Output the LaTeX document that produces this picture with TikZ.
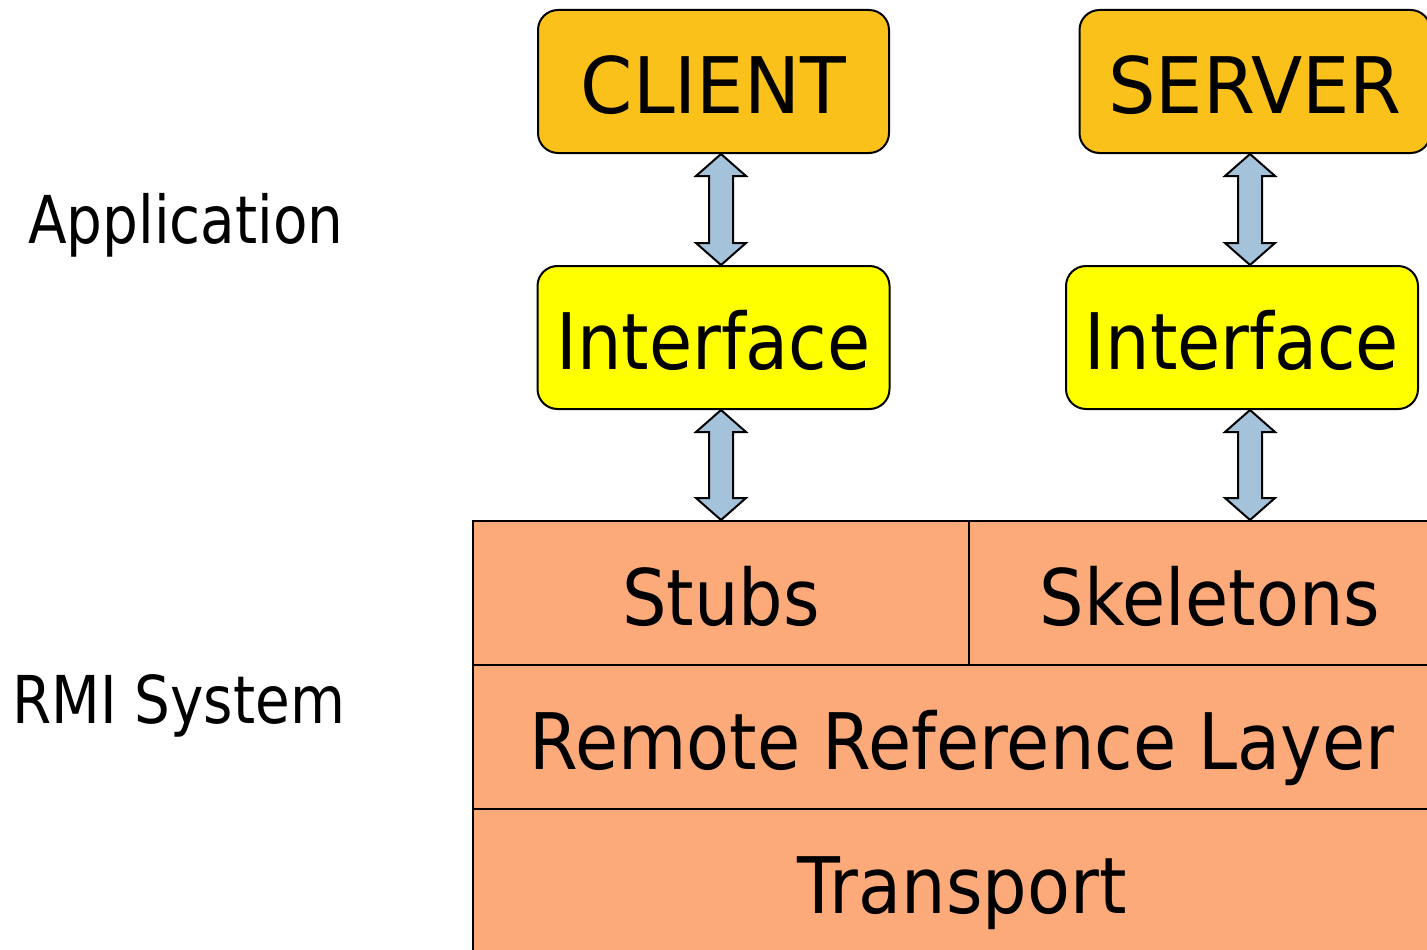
\documentclass[tikz,border=0pt]{standalone}
\usepackage{fontspec}
\setmainfont{DejaVu Sans}[FakeStretch=0.9]
\newfontfamily\capsfont{DejaVu Sans}[FakeStretch=0.96]
\newfontfamily\sidefont{DejaVu Sans}[FakeStretch=0.855]
\usetikzlibrary{calc}
\definecolor{appgold}{RGB}{249,193,26}
\definecolor{ifyellow}{RGB}{255,255,0}
\definecolor{layersalmon}{RGB}{252,170,122}
\definecolor{arrowblue}{RGB}{165,194,219}
\tikzset{
  bigtext/.style={font=\fontsize{78}{84}\selectfont, text height=64pt, text depth=0pt, inner sep=0pt},
  sidetext/.style={font=\sidefont\fontsize{66}{72}\selectfont, text height=48pt, text depth=0pt, inner sep=0pt, anchor=west},
  appbox/.style={bigtext, font=\capsfont\fontsize{78}{84}\selectfont, draw=black, line width=2pt,
    rounded corners=20pt, fill=appgold, minimum width=351pt, minimum height=143pt},
  ifbox/.style={bigtext, draw=black, line width=2pt, rounded corners=20pt, fill=ifyellow,
    minimum width=352pt, minimum height=143pt},
  layerbox/.style={bigtext, draw=black, line width=2pt, fill=layersalmon, minimum height=144pt},
  dblarrow/.style={draw=black, line width=2pt, fill=arrowblue, line join=miter},
}
% vertical double-headed block arrow between two anchors
\newcommand\blockarrow[2]{%
  \path[dblarrow] let \p1=(#1), \p2=(#2) in
    (\x1,\y1) -- (\x1+25pt,\y1-22pt) -- (\x1+12pt,\y1-22pt) -- (\x1+12pt,\y2+22pt)
    -- (\x1+25pt,\y2+22pt) -- (\x1,\y2) -- (\x1-25pt,\y2+22pt) -- (\x1-12pt,\y2+22pt)
    -- (\x1-12pt,\y1-22pt) -- (\x1-25pt,\y1-22pt) -- cycle;}
\begin{document}
\begin{tikzpicture}[x=1pt,y=-1pt]
\useasboundingbox (0,0) rectangle (1427,950);
% application layer
\node[appbox] (client) at (713.5,81.5) {CLIENT};
\node[appbox] (server) at (1255,81.5) {SERVER};
\node[ifbox] (cif) at (713.5,337.5) {Interface};
\node[ifbox] (sif) at (1242,337.5) {Interface};
% RMI layers
\node[layerbox, minimum width=496pt] (stubs) at (721,593) {Stubs};
\node[layerbox, minimum width=482pt] (skel) at (1210,593) {Skeletons};
\node[layerbox, minimum width=978pt] (rrl) at (962,737) {Remote Reference Layer};
\node[layerbox, minimum width=978pt] (transport) at (962,881) {Transport};
% side labels
\node[sidetext] (app) at (28,219) {Application};
\node[sidetext] (rmi) at (12,699) {RMI System};
% connectors
\coordinate (c1) at (client.south -| 721,0);
\coordinate (c2) at (cif.north -| 721,0);
\coordinate (c3) at (cif.south -| 721,0);
\coordinate (c4) at (stubs.north -| 721,0);
\coordinate (s1) at (server.south -| 1250,0);
\coordinate (s2) at (sif.north -| 1250,0);
\coordinate (s3) at (sif.south -| 1250,0);
\coordinate (s4) at (skel.north -| 1250,0);
\blockarrow{c1}{c2}
\blockarrow{c3}{c4}
\blockarrow{s1}{s2}
\blockarrow{s3}{s4}
\end{tikzpicture}
\end{document}
